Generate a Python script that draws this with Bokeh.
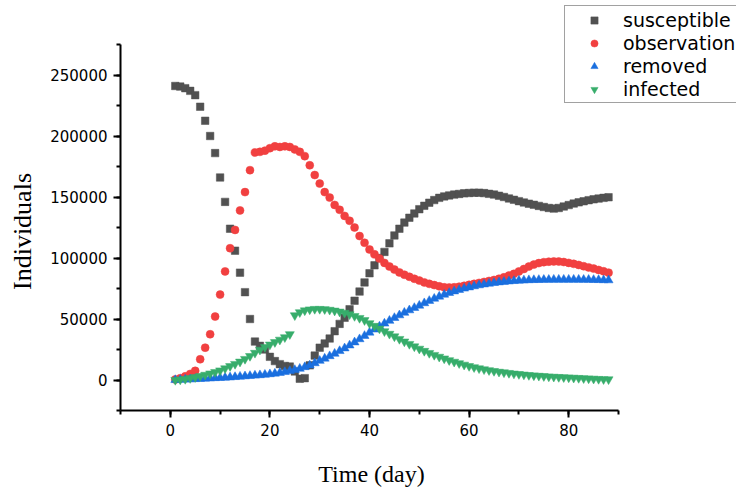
from bokeh.plotting import figure
from bokeh.models import Range1d, SingleIntervalTicker, NumeralTickFormatter, Legend, LegendItem
from bokeh.embed import file_html
from bokeh.resources import INLINE

days = list(range(1, 89))

susceptible = [241000, 240500, 239200, 237000, 233500, 224000, 212500, 200000, 186000, 166000,
               146000, 124000, 106000, 88000, 72000, 50000, 31500, 28000, 25000, 19000,
               15500, 13000, 11500, 11000, 7000, 1000, 1500, 12000, 20000, 26500,
               30000, 34000, 40000, 46000, 51000, 58000, 65000, 72500, 80000, 87500,
               94000, 100000, 105000, 112000, 118500, 124000, 129000, 133000, 136500, 140000,
               142800, 145300, 147500, 149300, 150500, 151300, 152000, 152500, 153000, 153300,
               153500, 153500, 153200, 152600, 152000, 151000, 150000, 148800, 147700, 146600,
               145500, 144500, 143600, 142700, 141800, 141000, 140500, 141000, 142200, 143400,
               144600, 145600, 146500, 147400, 148100, 148700, 149300, 149800]

observation = [500, 1500, 3000, 5000, 7500, 17000, 26500, 37500, 52000, 70000,
               89000, 108000, 123000, 139000, 154000, 172000, 186500, 187000, 188000, 190000,
               191500, 191000, 191500, 191000, 189000, 187000, 183500, 176000, 168000, 161000,
               154000, 149500, 143500, 139500, 134500, 130500, 125000, 118000, 112500, 107000,
               103000, 99500, 96000, 93000, 90500, 88200, 86300, 84600, 83000, 81500,
               80000, 78800, 77800, 76800, 76000, 75800, 76000, 76500, 77200, 78000,
               78800, 79600, 80400, 81200, 82000, 83000, 84200, 85600, 87000, 89000,
               91000, 93000, 94600, 95800, 96600, 97000, 97200, 97100, 96700, 96000,
               95200, 94300, 93300, 92300, 91300, 90200, 89100, 88000]

removed = [0, 200, 400, 600, 800, 1000, 1200, 1400, 1600, 1800,
           2000, 2200, 2500, 2800, 3100, 3400, 3700, 4000, 4400, 4800,
           5300, 5900, 6600, 7400, 8300, 9300, 10600, 12000, 13800, 15800,
           17600, 19600, 21600, 23800, 26000, 28400, 30900, 33500, 36200, 38900,
           41400, 43900, 46300, 48600, 50900, 53100, 55200, 57200, 59100, 61000,
           63000, 64900, 66700, 68400, 70000, 71400, 72700, 73900, 75000, 76000,
           76900, 77700, 78400, 79000, 79600, 80100, 80500, 80900, 81200, 81500,
           81700, 81900, 82000, 82100, 82200, 82200, 82300, 82300, 82300, 82300,
           82300, 82300, 82200, 82200, 82100, 82000, 81900, 81800]

infected = [0, 300, 800, 1500, 2300, 3200, 4200, 5300, 6500, 7800,
            9500, 11300, 13100, 15000, 17200, 19600, 22200, 24800, 27000, 29000,
            31000, 33000, 35000, 37500, 53000, 55500, 57000, 57800, 58200, 58200,
            58000, 57500, 56800, 56000, 55000, 53800, 52400, 50800, 49000, 46500,
            44300, 42100, 39900, 37800, 35700, 33600, 31500, 29500, 27500, 25600,
            23800, 22100, 20500, 19000, 17600, 16200, 14900, 13700, 12500, 11400,
            10400, 9500, 8700, 8000, 7300, 6700, 6200, 5700, 5200, 4800,
            4400, 4000, 3700, 3400, 3100, 2800, 2600, 2400, 2200, 2000,
            1800, 1600, 1400, 1200, 1000, 800, 600, 500]

series_names = ["susceptible", "observation", "removed", "infected"]
colors = ["#515151", "#F14040", "#1A6FDF", "#37AD6B"]
markers = ["square", "circle", "triangle", "inverted_triangle"]
sizes = [7.5, 8, 9, 9]

x_axis_bounds = (-10, 90)
y_axis_bounds = (-25000, 275000)

# the frame reaches the canvas top/right edges so the legend can sit there;
# the axes only cover their bounds. Axis labels are centred on the frame, so
# trailing wide spaces shift the visible words back to the middle of the axes.
x_label = "Time (day)" + "\u2003" * 4 + "\u00a0" * 3
y_label = "Individuals" + "\u2003" * 2

p = figure(width=736, height=490, output_backend="svg", toolbar_location=None,
           x_range=Range1d(-10, 113.69), y_range=Range1d(-25000, 311066),
           min_border_left=120, min_border_right=0, min_border_top=0, min_border_bottom=80,
           x_axis_label=x_label, y_axis_label=y_label)

p.grid.visible = False
p.outline_line_color = None
p.background_fill_color = "white"
p.border_fill_color = "white"

p.xaxis.ticker = SingleIntervalTicker(interval=20, num_minor_ticks=2)
p.yaxis.ticker = SingleIntervalTicker(interval=50000, num_minor_ticks=2)
p.yaxis.formatter = NumeralTickFormatter(format="0")
p.xaxis.bounds = x_axis_bounds
p.yaxis.bounds = y_axis_bounds

for ax in (p.xaxis[0], p.yaxis[0]):
    ax.axis_line_width = 2
    ax.axis_line_color = "black"
    ax.major_tick_line_width = 2
    ax.minor_tick_line_width = 2
    ax.major_tick_line_color = "black"
    ax.minor_tick_line_color = "black"
    ax.major_tick_out = 7
    ax.major_tick_in = 0
    ax.minor_tick_out = 4
    ax.minor_tick_in = 0
    ax.major_label_text_font = "DejaVu Sans"
    ax.major_label_text_font_size = "15px"
    ax.major_label_text_color = "black"
    ax.major_label_standoff = 6
    ax.axis_label_text_font = "Liberation Serif"
    ax.axis_label_text_font_style = "normal"
    ax.axis_label_text_color = "black"

p.xaxis[0].axis_label_text_font_size = "24px"
p.xaxis[0].axis_label_standoff = 22
p.yaxis[0].axis_label_text_font_size = "26px"
p.yaxis[0].axis_label_standoff = 10

data = [susceptible, observation, removed, infected]
renderers = []
for name, vals, c, m, s in zip(series_names, data, colors, markers, sizes):
    r = p.scatter(days, vals, marker=m, size=s, fill_color=c, line_color=c, line_width=0.5)
    renderers.append(r)

legend = Legend(items=[LegendItem(label=n, renderers=[r]) for n, r in zip(series_names, renderers)],
                location=(444, 307), padding=2, spacing=0, margin=0,
                glyph_width=54, glyph_height=18, label_height=23, label_standoff=2,
                label_text_font="DejaVu Sans", label_text_font_size="19px", label_text_color="black",
                border_line_color="#444444", border_line_width=1, background_fill_color="white",
                background_fill_alpha=1.0)
p.add_layout(legend, "center")

open("out.html", "w").write(file_html(p, INLINE))
